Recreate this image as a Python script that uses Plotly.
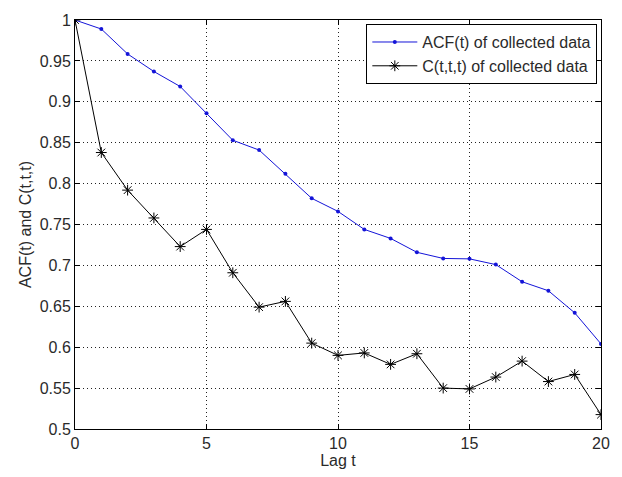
import plotly.graph_objects as go

# Lag values and the two correlation estimates
lags = list(range(21))
acf = [1.0, 0.989, 0.9585, 0.937, 0.9187, 0.886, 0.853, 0.841, 0.812, 0.782, 0.766,
       0.744, 0.733, 0.716, 0.7085, 0.708, 0.701, 0.680, 0.669, 0.642, 0.604]
c3 = [1.0, 0.838, 0.792, 0.758, 0.723, 0.744, 0.691, 0.649, 0.656, 0.605, 0.590,
      0.593, 0.579, 0.592, 0.550, 0.549, 0.5635, 0.583, 0.558, 0.5667, 0.5176]

x_ticks = [0, 5, 10, 15, 20]
y_ticks = [0.5, 0.55, 0.6, 0.65, 0.7, 0.75, 0.8, 0.85, 0.9, 0.95, 1]
y_tick_text = ["0.5", "0.55", "0.6", "0.65", "0.7", "0.75", "0.8", "0.85", "0.9", "0.95", "1"]

font = "Liberation Sans, Arial, sans-serif"
text_color = "#2a2a2a"

fig = go.Figure()
fig.add_trace(go.Scatter(
    x=lags, y=acf, mode="lines+markers", name="ACF(t) of collected data",
    line=dict(color="#1414d8", width=1),
    marker=dict(symbol="circle", size=4, color="#1414d8"),
))
fig.add_trace(go.Scatter(
    x=lags, y=c3, mode="lines+markers", name="C(t,t,t) of collected data",
    line=dict(color="black", width=1),
    marker=dict(symbol="asterisk-open", size=9, color="black",
                line=dict(color="black", width=1)),
))

axis_common = dict(
    showline=True, linecolor="black", linewidth=1, mirror="ticks",
    ticks="inside", ticklen=5, tickcolor="black",
    showgrid=True, gridcolor="#222", gridwidth=1, griddash="1px,3px",
    zeroline=False, tickfont=dict(family=font, size=16, color=text_color),
)

fig.update_layout(
    width=622, height=477,
    margin=dict(l=75, r=19, t=13, b=46),
    paper_bgcolor="white", plot_bgcolor="white",
    font=dict(family=font, size=16, color=text_color),
    showlegend=True,
    legend=dict(
        x=0.993, y=0.99, xanchor="right", yanchor="top",
        bgcolor="white", bordercolor="black", borderwidth=1,
        font=dict(family=font, size=16, color=text_color),
        itemwidth=45, tracegroupgap=0,
    ),
    xaxis=dict(
        range=[0, 20], tickvals=x_ticks,
        title=dict(text="Lag t", font=dict(family=font, size=16), standoff=2),
        **axis_common,
    ),
    yaxis=dict(
        range=[0.5, 1], tickvals=y_ticks, ticktext=y_tick_text,
        title=dict(text="ACF(t) and C(t,t,t)", font=dict(family=font, size=16), standoff=4),
        **axis_common,
    ),
)

fig.write_html("out.html")
